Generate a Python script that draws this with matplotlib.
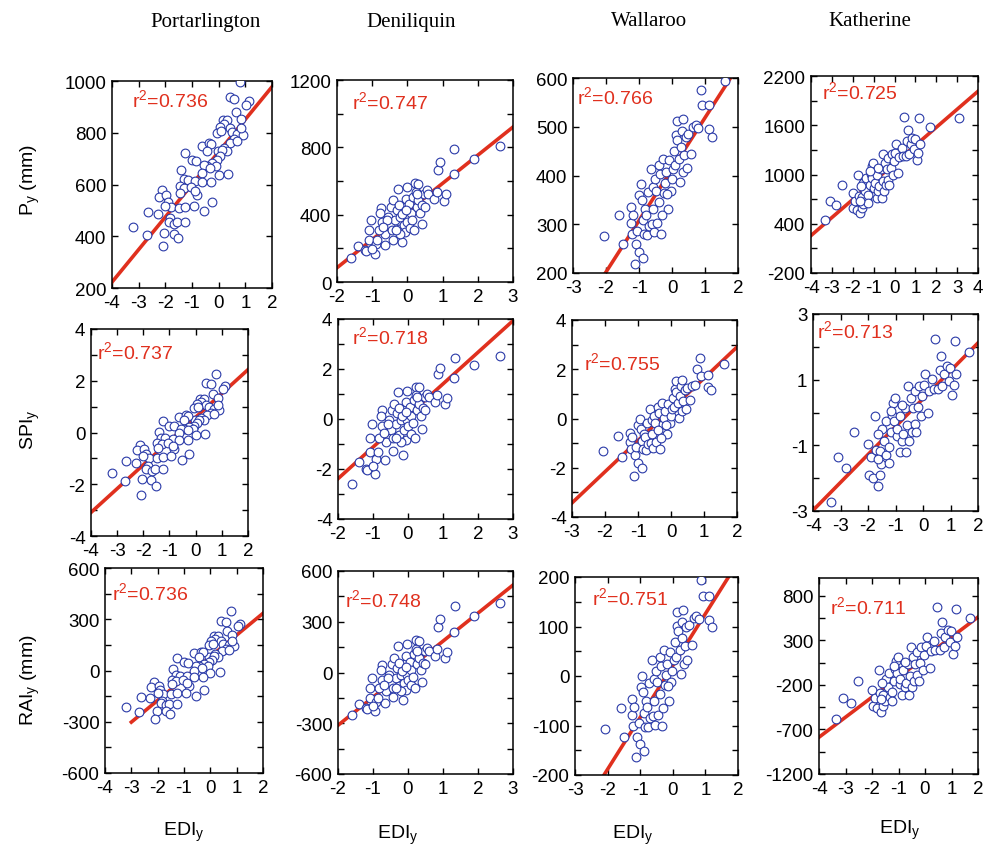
import numpy as np
import matplotlib
matplotlib.use('Agg')
import matplotlib.pyplot as plt

plt.rcParams['font.family'] = ['Liberation Sans', 'DejaVu Sans']
plt.rcParams['mathtext.default'] = 'regular'
plt.rcParams['axes.unicode_minus'] = False

W, H = 983, 854

stations = ['Portarlington', 'Deniliquin', 'Wallaroo', 'Katherine']
row_labels = ['P$_y$ (mm)', 'SPI$_y$', 'RAI$_y$ (mm)']

# Portarlington
port_edi = [0.79, 0.41, 0.59, 1.13, 1.04, 0.65, 0.15, 0.31, 0.84, 0.19,
            0.04, 0.41, -0.06, 0.09, 0.50, 0.69, 0.91, 0.84, 0.59, 0.44,
            0.69, 0.19, 0.31, -0.04, 0.13, -0.62, -0.37, -0.29, -0.44, -1.25,
            -1.00, -0.84, 0.06, -0.06, -0.25, -0.44, -0.09, -0.56, -1.40, -0.31,
            -0.62, 0.00, 0.35, -1.31, -1.16, -0.88, -0.62, -0.29, -1.46, -1.29,
            -1.04, -0.81, -0.88, -1.44, -2.13, -2.24, -1.96, -1.91, -1.79, -2.00,
            -1.49, -1.25, -0.94, -0.54, -0.24, -2.65, -2.28, -1.84, -1.88, -1.68,
            -1.56, -1.26, -3.21, -2.69, -2.04, -1.69, -1.53, -2.09]
port_p = [995, 938, 931, 922, 909, 881, 851, 851, 854, 832,
          822, 819, 800, 806, 803, 796, 790, 819, 774, 762,
          768, 742, 729, 729, 733, 749, 759, 755, 729, 721,
          695, 691, 710, 695, 685, 672, 672, 674, 655, 665,
          646, 636, 640, 621, 617, 614, 610, 608, 595, 588,
          592, 559, 576, 567, 578, 553, 559, 531, 512, 518,
          508, 514, 518, 496, 531, 495, 486, 471, 456, 447,
          454, 454, 437, 403, 413, 409, 392, 362]
port_spi = [2.27, 1.90, 1.86, 1.80, 1.70, 1.50, 1.31, 1.31, 1.33, 1.17,
            1.10, 1.08, 0.95, 0.99, 0.97, 0.92, 0.88, 1.08, 0.76, 0.68,
            0.72, 0.55, 0.48, 0.48, 0.50, 0.59, 0.66, 0.63, 0.48, 0.43,
            0.27, 0.25, 0.36, 0.27, 0.21, 0.14, 0.14, 0.15, 0.03, 0.09,
            -0.03, -0.10, -0.07, -0.20, -0.23, -0.25, -0.28, -0.30, -0.39, -0.43,
            -0.41, -0.64, -0.52, -0.58, -0.50, -0.68, -0.64, -0.83, -0.97, -0.92,
            -0.99, -0.95, -0.92, -1.08, -0.83, -1.09, -1.16, -1.29, -1.41, -1.48,
            -1.42, -1.42, -1.57, -1.87, -1.78, -1.82, -2.05, -2.40]
port_rai = [347, 290, 283, 274, 261, 233, 203, 203, 206, 184,
            174, 171, 152, 158, 155, 148, 142, 171, 126, 114,
            120, 94, 81, 81, 85, 101, 111, 107, 81, 73,
            47, 43, 62, 47, 37, 24, 24, 26, 7, 17,
            -2, -12, -8, -27, -31, -34, -38, -40, -53, -60,
            -56, -89, -72, -81, -70, -95, -89, -117, -136, -130,
            -140, -134, -130, -152, -117, -153, -162, -177, -192, -201,
            -194, -194, -211, -245, -235, -239, -256, -286]

# Deniliquin
deni_edi = [-1.59, -1.41, -1.20, -1.17, -1.08, -0.93, -0.90, -1.03, -1.08, -0.73,
            -0.75, -0.65, -0.63, -0.54, -0.46, -0.49, -0.44, -0.42, -0.35, -0.30,
            -0.28, -0.25, -0.20, -0.14, -0.11, -0.08, -0.07, -0.05, -0.02, 0.00,
            0.05, 0.08, 0.10, 0.17, 0.22, 0.24, 0.26, 0.31, 0.31, 0.36,
            0.41, 0.42, 0.48, 0.55, 0.59, 0.76, 0.83, 0.86, 0.92, 1.05,
            1.11, 1.32, 1.33, 1.90, 2.62, -0.82, -0.77, -0.58, -0.40, -0.20,
            -0.16, -1.00, -0.87, -0.25, 0.20, -0.02, -0.68, -0.33, -0.05, 0.14,
            0.26, 0.50]
deni_p = [145, 212, 188, 184, 248, 168, 224, 366, 307, 356,
          442, 218, 287, 386, 446, 337, 307, 251, 366, 426,
          554, 317, 386, 238, 337, 446, 297, 495, 386, 356,
          461, 323, 410, 505, 588, 535, 446, 584, 485, 410,
          343, 455, 525, 545, 525, 495, 535, 667, 713, 481,
          521, 640, 792, 733, 806, 307, 410, 366, 485, 287,
          406, 198, 248, 455, 307, 564, 327, 307, 430, 370,
          525, 446]
deni_spi = [-2.60, -1.70, -1.98, -2.02, -1.32, -2.20, -1.58, -0.18, -0.74, -0.27,
            0.35, -1.64, -0.92, -0.02, 0.37, -0.45, -0.74, -1.29, -0.18, 0.24,
            1.07, -0.64, -0.02, -1.43, -0.45, 0.37, -0.83, 0.69, -0.02, -0.27,
            0.47, -0.58, 0.14, 0.75, 1.30, 0.95, 0.37, 1.27, 0.62, 0.14,
            -0.40, 0.43, 0.88, 1.01, 0.88, 0.69, 0.95, 1.80, 2.04, 0.60,
            0.85, 1.64, 2.44, 2.15, 2.51, -0.74, 0.14, -0.18, 0.62, -0.92,
            0.11, -1.87, -1.32, 0.43, -0.74, 1.14, -0.55, -0.74, 0.27, -0.14,
            0.88, 0.37]
deni_rai = [-253, -186, -210, -214, -150, -230, -174, -32, -91, -42,
            44, -180, -111, -12, 48, -61, -91, -147, -32, 28,
            156, -81, -12, -160, -61, 48, -101, 97, -12, -42,
            63, -75, 12, 107, 190, 137, 48, 186, 87, 12,
            -55, 57, 127, 147, 127, 97, 137, 269, 315, 83,
            123, 242, 394, 335, 408, -91, 12, -32, 87, -111,
            8, -200, -150, 57, -91, 166, -71, -91, 32, -28,
            127, 48]

# Wallaroo
wall_edi = [-2.07, -1.60, -1.49, -1.25, -1.24, -1.22, -1.19, -1.12, -1.09, -1.05,
            -1.01, -0.99, -0.95, -0.92, -0.89, -0.87, -0.85, -0.82, -0.79, -0.77,
            -0.72, -0.69, -0.65, -0.62, -0.59, -0.57, -0.55, -0.52, -0.48, -0.46,
            -0.38, -0.36, -0.34, -0.26, -0.24, -0.21, -0.19, -0.13, -0.09, -0.04,
            -0.01, 0.04, 0.06, 0.09, 0.12, 0.14, 0.16, 0.21, 0.24, 0.27,
            0.29, 0.32, 0.34, 0.37, 0.41, 0.44, 0.49, 0.59, 0.64, 0.72,
            0.79, 0.87, 0.92, 1.12, 1.12, 1.20, 1.60, -0.40, -0.31, -0.16]
wall_p = [275, 318, 259, 303, 335, 281, 319, 218, 259, 287,
          244, 360, 382, 349, 231, 308, 279, 332, 319, 278,
          367, 297, 414, 301, 376, 332, 284, 393, 369, 303,
          421, 403, 280, 434, 364, 385, 407, 332, 431, 369,
          393, 414, 451, 421, 484, 511, 473, 434, 386, 458,
          492, 515, 407, 442, 480, 415, 486, 445, 499, 503,
          497, 575, 544, 544, 495, 480, 594, 345, 318, 362]
wall_spi = [-1.33, -0.72, -1.57, -0.96, -0.58, -1.22, -0.77, -2.32, -1.50, -1.15,
            -1.80, -0.28, -0.01, -0.41, -2.00, -0.90, -1.25, -0.61, -0.77, -1.26,
            -0.19, -1.03, 0.37, -0.98, -0.08, -0.61, -1.19, 0.12, -0.17, -0.96,
            0.46, 0.24, -1.24, 0.61, -0.23, 0.02, 0.29, -0.61, 0.58, -0.17,
            0.12, 0.37, 0.82, 0.46, 1.21, 1.54, 1.08, 0.61, 0.04, 0.90,
            1.31, 1.58, 0.29, 0.71, 1.16, 0.38, 1.24, 0.74, 1.32, 1.35,
            2.02, 2.47, 1.72, 1.75, 1.28, 1.14, 2.20, -0.46, -0.78, -0.25]
wall_rai = [-107, -64, -123, -79, -47, -101, -63, -164, -123, -95,
            -138, -22, 0, -33, -151, -74, -103, -50, -63, -104,
            -15, -85, 32, -81, -6, -50, -98, 11, -13, -79,
            39, 21, -102, 52, -18, 3, 25, -50, 49, -13,
            11, 32, 69, 39, 102, 129, 91, 52, 4, 76,
            110, 133, 25, 60, 98, 33, 104, 63, 117, 121,
            115, 193, 162, 162, 113, 98, 212, -37, -64, -20]

# Katherine
kath_edi = [-3.35, -3.08, -2.81, -2.52, -2.00, -1.97, -1.89, -1.81, -1.73, -1.71,
            -1.65, -1.57, -1.57, -1.52, -1.49, -1.41, -1.36, -1.33, -1.25, -1.25,
            -1.17, -1.12, -1.09, -1.06, -1.01, -0.96, -0.93, -0.85, -0.82, -0.77,
            -0.73, -0.66, -0.61, -0.57, -0.53, -0.50, -0.45, -0.41, -0.38, -0.30,
            -0.30, -0.18, -0.14, -0.09, -0.03, 0.02, 0.07, 0.18, 0.23, 0.34,
            0.39, 0.45, 0.55, 0.61, 0.66, 0.70, 0.77, 0.86, 0.93, 0.98,
            1.06, 1.13, 1.18, 1.21, 1.69, 3.07, -0.24, -0.77, -1.17, -1.65,
            -1.62]
kath_p = [448, 681, 624, 877, 775, 591, 681, 571, 1000, 734,
          530, 591, 722, 644, 898, 804, 959, 693, 755, 652,
          877, 1008, 1102, 959, 1143, 836, 898, 714, 1000, 804,
          857, 1061, 714, 926, 1254, 804, 1143, 877, 1061, 939,
          1205, 1074, 1254, 1000, 1164, 1266, 1368, 1020, 1213, 1327,
          1225, 1703, 1225, 1409, 1540, 1254, 1368, 1450, 1307, 1430,
          1172, 1266, 1683, 1368, 1581, 1683, 877, 1082, 1041, 673,
          857]
kath_spi = [-2.72, -1.37, -1.70, -0.58, -0.97, -1.89, -1.37, -2.01, -0.10, -1.13,
            -2.25, -1.89, -1.17, -1.58, -0.49, -0.86, -0.26, -1.30, -1.05, -1.54,
            -0.58, -0.07, 0.29, -0.26, 0.45, -0.73, -0.49, -1.21, -0.10, -0.86,
            -0.65, 0.13, -1.21, -0.39, 0.80, -0.86, 0.45, -0.58, 0.13, -0.34,
            0.64, 0.18, 0.80, -0.10, 0.51, 0.84, 1.17, -0.02, 0.67, 1.03,
            0.71, 2.24, 0.71, 1.30, 1.72, 0.80, 1.17, 1.43, 0.97, 1.36,
            0.54, 0.84, 2.17, 1.17, 1.85, 2.17, -0.58, 0.22, 0.06, -1.42,
            -0.65]
kath_rai = [-582, -349, -406, -153, -255, -439, -349, -459, -30, -296,
            -500, -439, -308, -386, -132, -226, -71, -337, -275, -378,
            -153, -22, 72, -71, 113, -194, -132, -316, -30, -226,
            -173, 31, -316, -104, 224, -226, 113, -153, 31, -91,
            175, 44, 224, -30, 134, 236, 338, -10, 183, 297,
            195, 673, 195, 379, 510, 224, 338, 420, 277, 400,
            142, 236, 653, 338, 551, 653, -153, 52, 11, -357,
            -173]

# r^2 of each panel (rows: P, SPI, RAI)
r2_values = [[0.736, 0.747, 0.766, 0.725],
             [0.737, 0.718, 0.755, 0.713],
             [0.736, 0.748, 0.751, 0.711]]

# regression lines
slopes = [[125.8, 167.2, 105.5, 219.75],
          [0.92, 1.264, 1.266, 0.85],
          [127.4, 165.8, 104.7, 224.8]]
intercepts = [[726, 419, 413, 1135],
              [0.59, 0.14, 0.37, 0.42],
              [80, 19.6, 21, 112]]
line_start = [[-4, -2, -3, -4],
              [-4, -2, -3, -4],
              [-3, -2, -3, -4]]

xdata = [port_edi, deni_edi, wall_edi, kath_edi]
ydata = [[port_p, deni_p, wall_p, kath_p],
         [port_spi, deni_spi, wall_spi, kath_spi],
         [port_rai, deni_rai, wall_rai, kath_rai]]

# axes boxes in pixels: left, top, right, bottom
boxes = [[(112, 82, 272, 289), (337, 81, 513, 283), (573, 79, 738, 274), (811, 77, 978, 274)],
         [(91, 330, 248, 537), (338, 320, 513, 520), (572, 321, 737, 518), (813, 315, 978, 512)],
         [(105, 569, 263, 774), (338, 572, 513, 775), (575, 578, 738, 776), (819, 579, 978, 775)]]

xlims = [[(-4, 2), (-2, 3), (-3, 2), (-4, 4)],
         [(-4, 2), (-2, 3), (-3, 2), (-4, 2)],
         [(-4, 2), (-2, 3), (-3, 2), (-4, 2)]]
# (ymin, ymax, tick step, label step)
yaxes = [[(200, 1000, 200, 200), (0, 1200, 200, 400), (200, 600, 100, 100), (-200, 2200, 300, 600)],
         [(-4, 4, 1, 2), (-4, 4, 1, 2), (-4, 4, 1, 2), (-3, 3, 1, 2)],
         [(-600, 600, 150, 300), (-600, 600, 150, 300), (-200, 200, 50, 100), (-1200, 1000, 250, 500)]]

r2_pos = [[(132, 100), (352, 102), (577, 97), (822, 92)],
          [(97, 352), (352, 337), (584, 363), (817, 331)],
          [(112, 593), (345, 600), (592, 598), (830, 607)]]

red = '#e0301e'
blue = '#2a3aa8'

fig = plt.figure(figsize=(W / 100, H / 100), dpi=100)

for r in range(3):
    for c in range(4):
        l, t, rr, b = boxes[r][c]
        ax = fig.add_axes([l / W, 1 - b / H, (rr - l) / W, (b - t) / H])
        x0, x1 = xlims[r][c]
        xs = np.array([line_start[r][c], x1])
        ax.plot(xs, slopes[r][c] * xs + intercepts[r][c], color=red, lw=2.6, zorder=2)
        ax.plot(xdata[c], ydata[r][c], 'o', mfc='white', mec=blue, ms=6.3, mew=0.8, zorder=3)
        ax.set_xlim(x0, x1)
        ax.set_xticks(np.arange(x0, x1 + 1))
        ax.set_xticklabels([str(v) for v in range(x0, x1 + 1)])
        y0, y1, step, lstep = yaxes[r][c]
        yt = np.arange(y0, y1 + 1e-9, step)
        ax.set_ylim(y0, y1)
        ax.set_yticks(yt)
        ax.set_yticklabels([str(int(round(v))) if (round(v - y0) % lstep == 0) else '' for v in yt])
        ax.tick_params(direction='in', top=True, right=True, length=4, width=1,
                       labelsize=13.5, pad=4)
        for sp in ax.spines.values():
            sp.set_linewidth(1.1)
        tx, ty = r2_pos[r][c]
        fig.text(tx / W, 1 - ty / H, 'r$^2$=%.3f' % r2_values[r][c], color=red,
                 fontsize=14, ha='left', va='center')

title_x = [206, 411, 649, 870]
for c, name in enumerate(stations):
    fig.text(title_x[c] / W, 1 - 22 / H, name, ha='center', va='center',
             family='Liberation Serif', fontsize=15)

label_y = [180, 430, 680]
for r, lab in enumerate(row_labels):
    fig.text(30 / W, 1 - label_y[r] / H, lab, rotation=90, ha='center', va='center', fontsize=14)

xlab_pos = [(184, 832), (398, 835), (633, 835), (900, 830)]
for px, py in xlab_pos:
    fig.text(px / W, 1 - py / H, 'EDI$_y$', ha='center', va='center', fontsize=14)

fig.savefig('out.png', dpi=100)
